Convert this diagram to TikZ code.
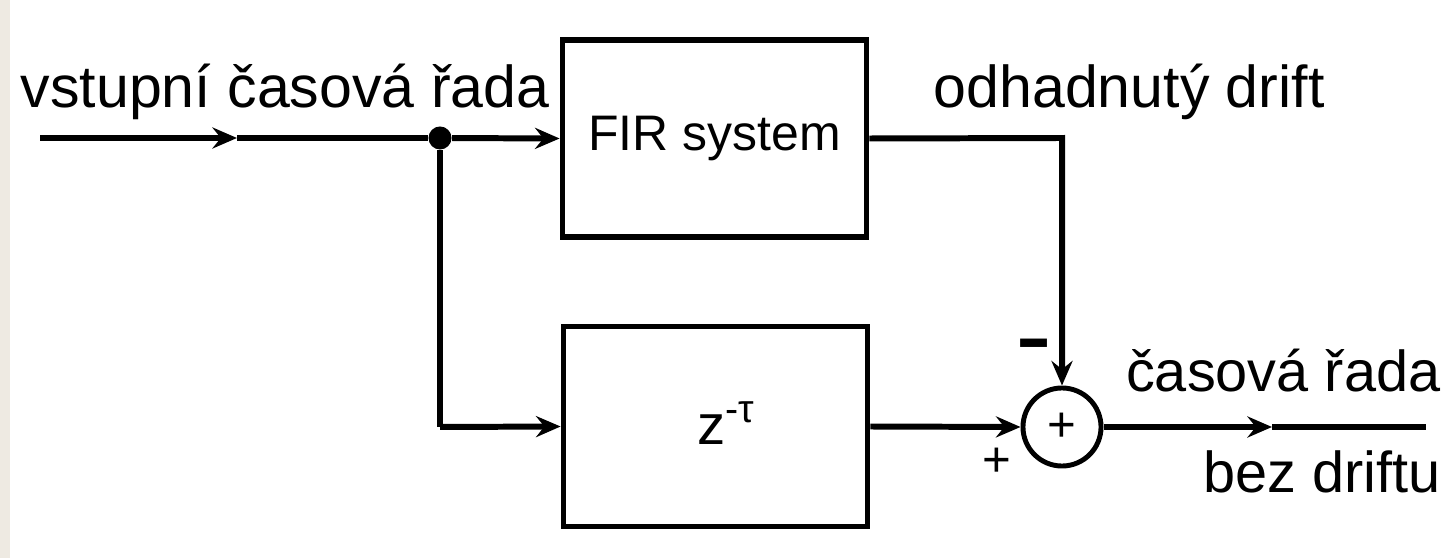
\documentclass[tikz,border=0pt]{standalone}
\usepackage{fontspec}
\setmainfont{Liberation Sans}
\usetikzlibrary{arrows.meta}
\definecolor{beige}{RGB}{238,234,226}
\tikzset{
  wire/.style={line width=1.7pt},
  tip/.style={-{Stealth[length=7pt,width=6pt,inset=2.4pt]}},
  blockbox/.style={draw, line width=1.6pt, minimum width=3.04cm, inner sep=0pt},
  lbl/.style={inner sep=0pt, font=\fontsize{16.8}{20}\selectfont},
  rlbl/.style={inner sep=0pt, font=\fontsize{16.4}{20}\selectfont},
  sumnode/.style={draw, circle, line width=1.4pt, minimum size=0.78cm, inner sep=0pt}
}
\begin{document}
\begin{tikzpicture}[x=0.01cm,y=-0.01cm]
\useasboundingbox (0,0) rectangle (1455,558);
\fill[beige] (0,0) rectangle (10,558);
% blocks
\node[blockbox, minimum height=1.97cm, font=\fontsize{14.2}{17}\selectfont] (fir) at (714.5,138.5) {FIR system};
\node[blockbox, minimum height=2.0cm] (del) at (715.5,426.5) {};
\node[inner sep=0pt, font=\fontsize{16}{20}\selectfont, anchor=base] (zt) at (727,445) {z\textsuperscript{-τ}};
\node[sumnode, font=\fontsize{14}{17}\selectfont] (sum) at (1062,427) {+};
% junction
\node[circle, fill, inner sep=0pt, minimum size=0.23cm] (dot) at (440,138) {};
% coordinates
\coordinate (in) at (40,138);
\coordinate (inm) at (237,138);
\coordinate (low) at (440,427);
\coordinate (corner) at (1062,138);
\coordinate (outm) at (1272,427);
\coordinate (out) at (1426,427);
% connectors
\draw[wire,tip] (in) -- (inm);
\draw[wire] (inm) -- (dot);
\draw[wire,tip] (dot) -- (fir.west);
\draw[wire] (dot) -- (low);
\draw[wire,tip] (low) -- (del.west);
\draw[wire,tip] (del.east) -- (sum.west);
\draw[wire,tip] (fir.east) -- (corner) -- (sum.north);
\draw[wire,tip] (sum.east) -- (outm);
\draw[wire] (outm) -- (out);
% labels
\node[lbl, anchor=base west] (l1) at (20,108) {vstupní časová řada};
\node[lbl, anchor=base west] (l2) at (933,108) {odhadnutý drift};
\node[rlbl, anchor=base east] (l3) at (1441,392) {časová řada};
\node[rlbl, anchor=base east] (l4) at (1441,492) {bez driftu};
\node[inner sep=0pt, font=\fontsize{20}{22}\selectfont\bfseries] (minus) at (1034,350) {\scalebox{1.5}[1]{-}};
\node[inner sep=0pt, font=\fontsize{14}{16}\selectfont] (plus) at (997,462) {+};
\end{tikzpicture}
\end{document}
